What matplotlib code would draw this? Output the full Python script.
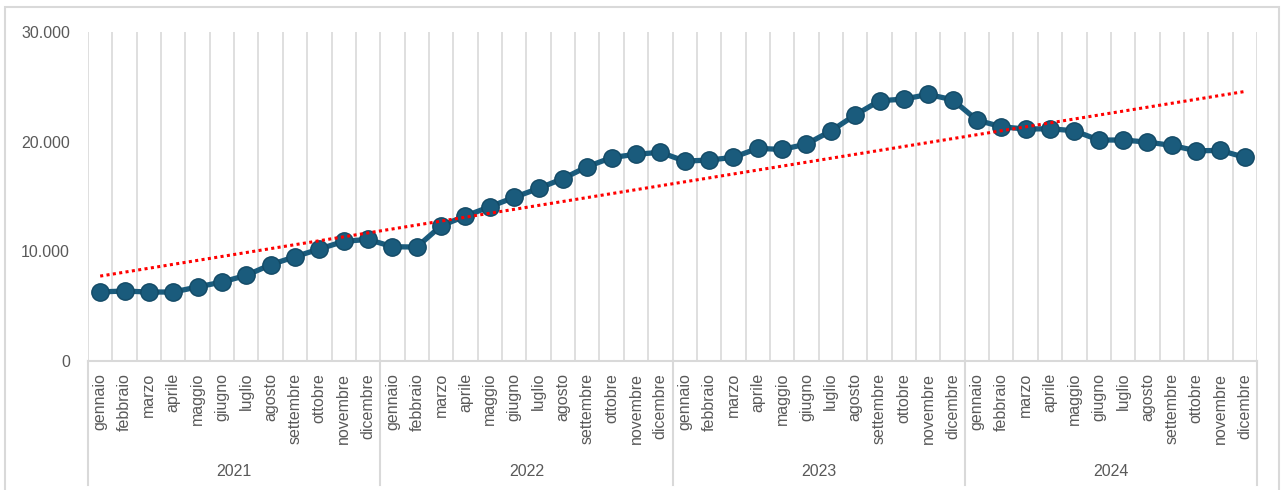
import matplotlib
matplotlib.use("Agg")
import matplotlib.pyplot as plt
import numpy as np
from matplotlib.patches import Rectangle
from matplotlib.lines import Line2D
from matplotlib.ticker import FuncFormatter

plt.rcParams['font.family'] = ['Liberation Sans', 'DejaVu Sans']

years = ["2021", "2022", "2023", "2024"]
months = ["gennaio", "febbraio", "marzo", "aprile", "maggio", "giugno",
          "luglio", "agosto", "settembre", "ottobre", "novembre", "dicembre"]

values_2021 = [6300, 6380, 6290, 6290, 6750, 7200, 7810, 8780, 9510, 10210, 10910, 11090]
values_2022 = [10420, 10390, 12330, 13220, 14070, 14920, 15740, 16630, 17720, 18550, 18850, 19030]
values_2023 = [18230, 18320, 18570, 19390, 19290, 19780, 20970, 22430, 23730, 23880, 24310, 23820]
values_2024 = [21970, 21360, 21150, 21180, 20990, 20150, 20150, 19960, 19660, 19170, 19200, 18570]

series = np.array(values_2021 + values_2022 + values_2023 + values_2024, dtype=float)
labels = months * len(years)
x = np.arange(len(series))

W, H = 1281, 490
fig = plt.figure(figsize=(W / 100, H / 100), dpi=100)
fig.patch.set_facecolor("white")

left, right, top, bottom = 88, 1257, 32, 361
ax = fig.add_axes([left / W, 1 - bottom / H, (right - left) / W, (bottom - top) / H])

grid_col = "#d9d9d9"
text_col = "#595959"
line_col = "#1a5b7c"

# vertical category gridlines
for k in range(len(series) + 1):
    ax.axvline(k - 0.5, color=grid_col, lw=1.2, zorder=0)

# data series
ax.plot(x, series, color=line_col, lw=3.8, marker="o", markersize=12.5,
        markerfacecolor=line_col, markeredgecolor="#134a66", markeredgewidth=1.0,
        zorder=3, solid_capstyle="round")

# linear trend line
coef = np.polyfit(x, series, 1)
trend = np.polyval(coef, x)
ax.plot(x, trend, color="#ff0000", lw=2.2, linestyle=(0, (1, 1.1)), zorder=4)

ax.set_xlim(-0.5, len(series) - 0.5)
ax.set_ylim(0, 30000)
ax.set_yticks([0, 10000, 20000, 30000])
ax.yaxis.set_major_formatter(FuncFormatter(lambda v, p: f"{int(v):,}".replace(",", ".")))
ax.tick_params(axis="y", length=0, pad=13, labelsize=11.5, labelcolor=text_col)

ax.set_xticks(x)
ax.set_xticklabels(labels, rotation=90, fontsize=11.5, color=text_col)
ax.tick_params(axis="x", length=0, pad=8.5)

for s in ["top", "left", "right"]:
    ax.spines[s].set_visible(False)
ax.spines["bottom"].set_color(grid_col)
ax.spines["bottom"].set_linewidth(1.5)

# year group separators and labels
sep_bottom = -(485 - bottom) / (bottom - top)
trans = ax.get_xaxis_transform()
for i in range(len(years) + 1):
    ax.add_line(Line2D([i * 12 - 0.5] * 2, [0, sep_bottom], transform=trans,
                       color=grid_col, lw=1.5, clip_on=False))
year_y = -(472 - bottom) / (bottom - top)
for i, yr in enumerate(years):
    ax.text(i * 12 + 5.5, year_y, yr, transform=trans, ha="center", va="center",
            fontsize=11.5, color=text_col)

# chart border
fig.add_artist(Rectangle((5 / W, -0.02), (1279 - 5) / W, 1.02 - 7 / H,
                         transform=fig.transFigure, fill=False,
                         edgecolor=grid_col, lw=1.5))

fig.savefig("out.png", dpi=100, facecolor="white")
